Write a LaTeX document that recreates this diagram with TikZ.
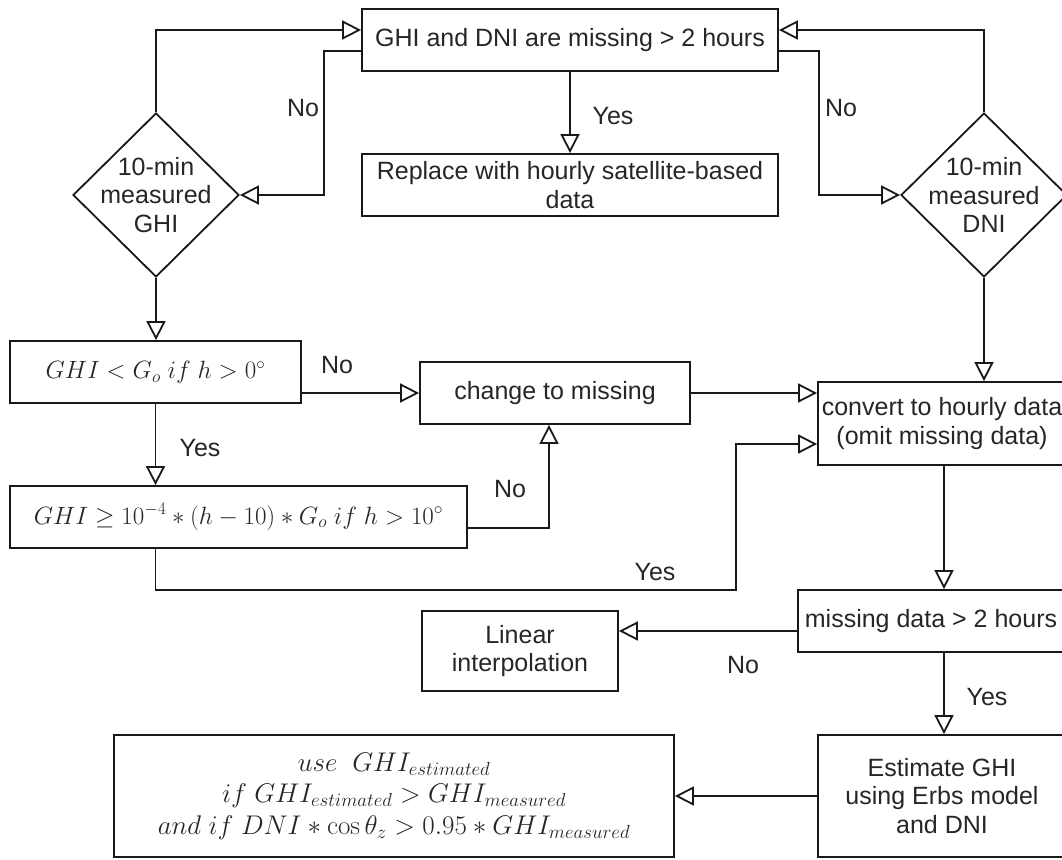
\RequirePackage{fix-cm}
\documentclass[tikz,border=0pt]{standalone}
\usepackage[no-math]{fontspec}
\setmainfont{Liberation Sans}
\usetikzlibrary{arrows.meta,shapes.geometric,calc}
\begin{document}
\begin{tikzpicture}[x=1pt,y=-1pt,
  every node/.style={font=\fontsize{25}{28.75}\selectfont, text=black!85},
  box/.style={draw=black!90, line width=1.8pt, rectangle, inner sep=0pt, align=center},
  dia/.style={draw=black!90, line width=1.8pt, diamond, inner sep=0pt, minimum width=166pt, minimum height=164pt},
  arr/.style={draw=black!90, line width=1.8pt, -{Triangle[open,length=19pt,width=19pt,fill=white]}},
  lbl/.style={inner sep=0pt}]
\useasboundingbox (0,0) rectangle (1062,859);
\clip (0,0) rectangle (1062,859);

% nodes
\node[box, minimum width=416pt, minimum height=62pt] (top) at (570,40) {GHI and DNI are missing > 2 hours};
\node[box, minimum width=416pt, minimum height=62pt] (replace) at (570,185) {Replace with hourly satellite-based\\data};
\node[dia] (dghi) at (156,195) {};
\node[align=center, inner sep=0pt] (dghit) at (dghi.center) {10-min\\measured\\GHI};
\node[dia] (ddni) at (984,195) {};
\node[align=center, inner sep=0pt] (ddnit) at (ddni.center) {10-min\\measured\\DNI};
\node[box, minimum width=291pt, minimum height=62pt] (ghilt) at (155.5,372) {$GHI < G_o \ if \ h > 0^{\circ}$};
\node[box, minimum width=270pt, minimum height=62pt] (change) at (555,393) {change to missing};
\node[box, minimum width=457pt, minimum height=62pt] (ghige) at (238.5,517) {$GHI \geq 10^{-4} * (h-10) * G_o \ if \ h > 10^{\circ}$};
\node[box, minimum width=248pt, minimum height=83pt] (convert) at (942,423.5) {convert to hourly data\\(omit missing data)};
\node[box, minimum width=266pt, minimum height=62pt] (missing) at (931,621) {missing data > 2 hours};
\node[box, minimum width=196pt, minimum height=80pt] (linear) at (520,651) {Linear\\interpolation};
\node[box, minimum width=248pt, minimum height=122pt] (estimate) at (942,796) {Estimate GHI\\using Erbs model\\and DNI};
\node[box, minimum width=560pt, minimum height=122pt, font=\fontsize{27}{31.5}\selectfont] (use) at (394,796)
  {$use\ \ GHI_{estimated}$\\$if\ GHI_{estimated} > GHI_{measured}$\\$and\ if\ DNI * \cos\theta_z > 0.95 * GHI_{measured}$};

% connectors
\draw[arr] (dghi.north) |- ([yshift=10pt]top.west);
\draw[arr] ([yshift=-11pt]top.west) -- ++(-37,0) |- (dghi.east);
\draw[arr] (top.south) -- (replace.north);
\draw[arr] (ddni.north) |- ([yshift=10pt]top.east);
\draw[arr] ([yshift=-11pt]top.east) -- ++(40,0) |- (ddni.west);
\draw[arr] (dghi.south) -- (dghi.south |- ghilt.north);
\draw[arr] (ghilt.east |- change.west) -- (change.west);
\draw[arr] (change.east) -- (change.east -| convert.west);
\draw[arr] (ghilt.south) -- (ghilt.south |- ghige.north);
\draw[arr] ([yshift=-11pt]ghige.east) -| ([xshift=-6pt]change.south);
\coordinate (yesturn) at (736,590);
\draw[arr] (ghilt.south |- ghige.south) |- (yesturn) |- ([yshift=-20.5pt]convert.west);
\draw[arr] (ddni.south) -- (ddni.south |- convert.north);
\draw[arr] ([xshift=2pt]convert.south) -- ([xshift=2pt]convert.south |- missing.north);
\draw[arr] ([yshift=-10pt]missing.west) -- ([yshift=-10pt]missing.west -| linear.east);
\draw[arr] ([xshift=2pt]convert.south |- missing.south) -- ([xshift=2pt]convert.south |- estimate.north);
\draw[arr] (estimate.west) -- (estimate.west -| use.east);

% labels
\node[lbl] (l1) at (303,108) {No};
\node[lbl] (l2) at (841,108) {No};
\node[lbl] (l3) at (613,116) {Yes};
\node[lbl] (l4) at (337,365) {No};
\node[lbl] (l5) at (200,448) {Yes};
\node[lbl] (l6) at (510,489) {No};
\node[lbl] (l7) at (655,572) {Yes};
\node[lbl] (l8) at (743,665) {No};
\node[lbl] (l9) at (987,697) {Yes};
\end{tikzpicture}
\end{document}
